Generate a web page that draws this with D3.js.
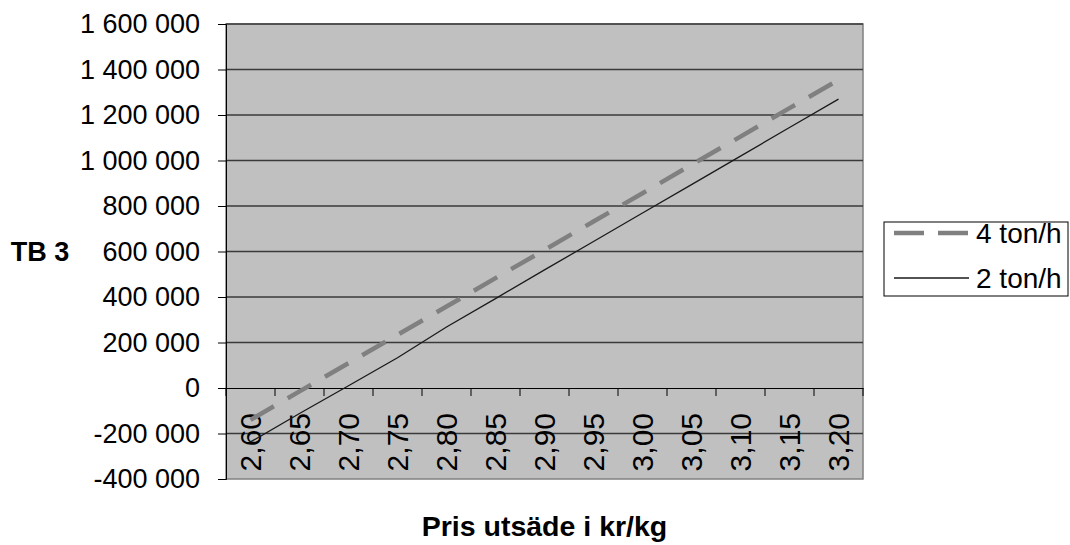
<!DOCTYPE html>
<html>
<head>
<meta charset="utf-8">
<script src="https://cdn.jsdelivr.net/npm/d3@7"></script>
<style>
  body { margin: 0; background: #fff; }
  text { font-family: Arial, "Liberation Sans", sans-serif; }
</style>
</head>
<body>
<svg width="1070" height="545"></svg>
<script>
// price of seed, kr/kg
var categories = ["2,60", "2,65", "2,70", "2,75", "2,80", "2,85", "2,90",
                  "2,95", "3,00", "3,05", "3,10", "3,15", "3,20"];

var ton4 = [-140000, -15000, 109000, 234000, 358000, 483000, 607000,
            732000, 856000, 981000, 1105000, 1230000, 1354000];
var ton2 = [-237000, -112000, 10000, 133000, 268000, 393000, 519000,
            644000, 769000, 894000, 1019000, 1145000, 1270000];

var yTicks = [-400000, -200000, 0, 200000, 400000, 600000, 800000,
              1000000, 1200000, 1400000, 1600000];

var svg = d3.select("svg");

var plot = { left: 226, right: 863, top: 24, bottom: 479 };

var x = d3.scaleBand()
    .domain(categories)
    .range([plot.left, plot.right])
    .padding(0);

var y = d3.scaleLinear()
    .domain([-400000, 1600000])
    .range([plot.bottom, plot.top]);

var locale = d3.formatLocale({ decimal: ",", thousands: "\u00a0", grouping: [3], currency: ["", ""], minus: "-" });
var fmt = locale.format(",d");

// plot background
svg.append("rect")
    .attr("x", plot.left)
    .attr("y", plot.top)
    .attr("width", plot.right - plot.left)
    .attr("height", plot.bottom - plot.top)
    .attr("fill", "#c0c0c0")
    .attr("stroke", "#808080")
    .attr("stroke-width", 1.5);

// gridlines
svg.append("g")
    .selectAll("line")
    .data(yTicks.filter(function (d) { return d !== 0 && d !== -400000; }))
    .enter().append("line")
    .attr("x1", plot.left)
    .attr("x2", plot.right)
    .attr("y1", function (d) { return y(d); })
    .attr("y2", function (d) { return y(d); })
    .attr("stroke", "#3a3a3a")
    .attr("stroke-width", 1.3);

// y axis
var yAxis = svg.append("g")
    .attr("transform", "translate(" + plot.left + ",0)")
    .call(d3.axisLeft(y).tickValues(yTicks).tickFormat(fmt).tickSize(8).tickPadding(18));
yAxis.select(".domain").attr("stroke", "#000");
yAxis.selectAll("text")
    .attr("font-size", 27)
    .attr("fill", "#000");

// x axis at zero
var xAxis = svg.append("g")
    .attr("transform", "translate(0," + y(0) + ")")
    .call(d3.axisBottom(x).tickSize(0).tickSizeOuter(0));
xAxis.select(".domain").attr("stroke", "#000");
xAxis.selectAll(".tick line").remove();

// ticks between categories
var bounds = categories.map(function (d) { return x(d); }).concat([plot.right]);
xAxis.selectAll(".bound")
    .data(bounds)
    .enter().append("line")
    .attr("class", "bound")
    .attr("x1", function (d) { return d; })
    .attr("x2", function (d) { return d; })
    .attr("y1", 0)
    .attr("y2", 8)
    .attr("stroke", "#000");

xAxis.selectAll(".tick text")
    .attr("font-size", 30)
    .attr("fill", "#000")
    .attr("text-anchor", "end")
    .attr("transform", "translate(0,25) rotate(-90)")
    .attr("x", 0)
    .attr("y", 0)
    .attr("dy", "0.36em");

// lines
var line = d3.line()
    .x(function (d, i) { return x(categories[i]) + x.bandwidth() / 2; })
    .y(function (d) { return y(d); });

svg.append("path")
    .datum(ton4)
    .attr("d", line)
    .attr("fill", "none")
    .attr("stroke", "#808080")
    .attr("stroke-width", 4.5)
    .attr("stroke-dasharray", "27,16");

svg.append("path")
    .datum(ton2)
    .attr("d", line)
    .attr("fill", "none")
    .attr("stroke", "#1a1a1a")
    .attr("stroke-width", 1.3);

// axis titles
svg.append("text")
    .attr("x", 40)
    .attr("y", 252)
    .attr("dy", "0.35em")
    .attr("text-anchor", "middle")
    .attr("font-size", 27)
    .attr("font-weight", "bold")
    .text("TB 3");

svg.append("text")
    .attr("x", (plot.left + plot.right) / 2)
    .attr("y", 536)
    .attr("text-anchor", "middle")
    .attr("font-size", 28.5)
    .attr("font-weight", "bold")
    .text("Pris utsäde i kr/kg");

// legend
var legend = svg.append("g");
legend.append("rect")
    .attr("x", 884)
    .attr("y", 222)
    .attr("width", 184)
    .attr("height", 74)
    .attr("fill", "#fff")
    .attr("stroke", "#000")
    .attr("stroke-width", 1);

var items = [
    { name: "4 ton/h", color: "#808080", width: 4.5, dash: "30,14" },
    { name: "2 ton/h", color: "#1a1a1a", width: 1.3, dash: null }
];

var entry = legend.selectAll(".entry")
    .data(items)
    .enter().append("g")
    .attr("class", "entry")
    .attr("transform", function (d, i) { return "translate(894," + (233 + i * 45) + ")"; });

entry.append("line")
    .attr("x1", 0)
    .attr("x2", 75)
    .attr("stroke", function (d) { return d.color; })
    .attr("stroke-width", function (d) { return d.width; })
    .attr("stroke-dasharray", function (d) { return d.dash; });

entry.append("text")
    .attr("x", 82)
    .attr("dy", "0.35em")
    .attr("font-size", 28)
    .text(function (d) { return d.name; });
</script>
</body>
</html>
